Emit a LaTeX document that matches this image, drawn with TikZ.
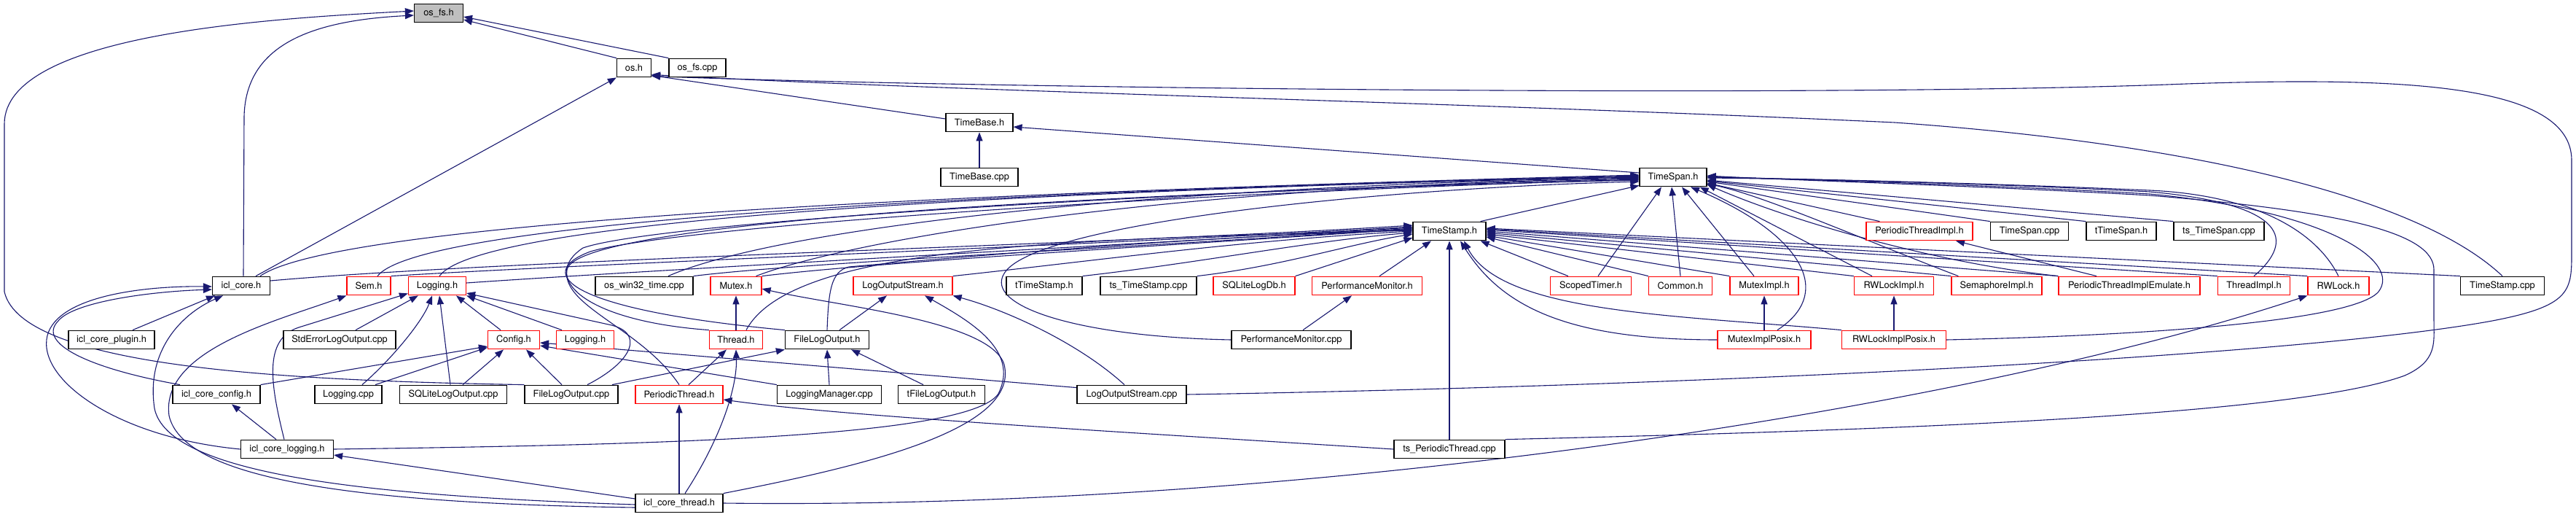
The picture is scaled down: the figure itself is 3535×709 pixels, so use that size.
\documentclass[tikz,border=0pt]{standalone}
\usepackage{fontspec}
\setmainfont{TeX Gyre Heros}
\usetikzlibrary{arrows.meta}
\definecolor{lnc}{RGB}{25,25,112}
\definecolor{gfill}{RGB}{191,191,191}
\pgfdeclarelayer{edges}
\pgfsetlayers{edges,main}
\begin{document}
\begin{tikzpicture}[x=1pt,y=-1pt,
  nb/.style={draw=black,fill=white,line width=1.2pt,minimum height=25.6pt,inner sep=0pt,font=\fontsize{12.8}{14}\selectfont},
  nr/.style={nb,draw=red},
  e/.style={draw=lnc,line width=1.1pt,-{Triangle[length=12pt,width=9pt]}}]
\useasboundingbox (0,0) rectangle (3535,709);
% row 0-3
\node[nb,fill=gfill,minimum width=67pt] (osfsh) at (602,18) {os\_fs.h};
\node[nb,minimum width=47pt] (osh) at (870,93) {os.h};
\node[nb,minimum width=78pt] (osfscpp) at (957,93) {os\_fs.cpp};
\node[nb,minimum width=92pt] (timebaseh) at (1344,168) {TimeBase.h};
\node[nb,minimum width=106pt] (timebasecpp) at (1344,243) {TimeBase.cpp};
\node[nb,minimum width=92pt] (timespanh) at (2296,243) {TimeSpan.h};
% row 4
\node[nb,minimum width=100pt] (timestamph) at (1989,317) {TimeStamp.h};
\node[nr,minimum width=146pt] (ptimplh) at (2634,317) {PeriodicThreadImpl.h};
\node[nb,minimum width=107pt] (timespancpp) at (2785,317) {TimeSpan.cpp};
\node[nb,minimum width=96pt] (ttimespanh) at (2911,317) {tTimeSpan.h};
\node[nb,minimum width=124pt] (tstimespancpp) at (3045,317) {ts\_TimeSpan.cpp};
% row 5
\node[nb,minimum width=79pt] (iclcoreh) at (331,392) {icl\_core.h};
\node[nr,minimum width=60pt] (semh) at (506,392) {Sem.h};
\node[nr,minimum width=79pt] (loggingh) at (600,392) {Logging.h};
\node[nb,minimum width=134pt] (win32) at (884,392) {os\_win32\_time.cpp};
\node[nr,minimum width=70pt] (mutexh) at (1010,392) {Mutex.h};
\node[nr,minimum width=136pt] (logoutstreamh) at (1239,392) {LogOutputStream.h};
\node[nb,minimum width=104pt] (ttimestamph) at (1433,392) {tTimeStamp.h};
\node[nb,minimum width=132pt] (tstimestampcpp) at (1576,392) {ts\_TimeStamp.cpp};
\node[nr,minimum width=112pt] (sqlitelogdbh) at (1721,392) {SQLiteLogDb.h};
\node[nr,minimum width=151pt] (perfmonh) at (1876,392) {PerformanceMonitor.h};
\node[nr,minimum width=111pt] (scopedtimerh) at (2183,392) {ScopedTimer.h};
\node[nr,minimum width=87pt] (commonh) at (2306,392) {Common.h};
\node[nr,minimum width=94pt] (muteximplh) at (2421,392) {MutexImpl.h};
\node[nr,minimum width=109pt] (rwlockimplh) at (2599,392) {RWLockImpl.h};
\node[nr,minimum width=124pt] (semimplh) at (2740,392) {SemaphoreImpl.h};
\node[nr,minimum width=194pt] (ptimplemuh) at (2922,392) {PeriodicThreadImplEmulate.h};
\node[nr,minimum width=99pt] (threadimplh) at (3093,392) {ThreadImpl.h};
\node[nr,minimum width=84pt] (rwlockh) at (3209,392) {RWLock.h};
\node[nb,minimum width=115pt] (timestampcpp) at (3434,392) {TimeStamp.cpp};
% row 6
\node[nb,minimum width=118pt] (pluginh) at (153,466) {icl\_core\_plugin.h};
\node[nb,minimum width=154pt] (stderrcpp) at (466,466) {StdErrorLogOutput.cpp};
\node[nr,minimum width=71pt] (configh) at (705,466) {Config.h};
\node[nr,minimum width=79pt] (logging2h) at (803,466) {Logging.h};
\node[nr,minimum width=73pt] (threadh) at (1010,466) {Thread.h};
\node[nb,minimum width=115pt] (filelogouth) at (1135,466) {FileLogOutput.h};
\node[nb,minimum width=164pt] (perfmoncpp) at (1772,466) {PerformanceMonitor.cpp};
\node[nr,minimum width=128pt] (muteximplposixh) at (2421,466) {MutexImplPosix.h};
\node[nr,minimum width=143pt] (rwlockimplposixh) at (2599,466) {RWLockImplPosix.h};
% row 7
\node[nb,minimum width=120pt] (iclcoreconfigh) at (297,541) {icl\_core\_config.h};
\node[nb,minimum width=92pt] (loggingcpp) at (478,541) {Logging.cpp};
\node[nb,minimum width=147pt] (sqlitelogoutcpp) at (622,541) {SQLiteLogOutput.cpp};
\node[nb,minimum width=128pt] (filelogoutcpp) at (784,541) {FileLogOutput.cpp};
\node[nr,minimum width=120pt] (periodicthreadh) at (932,541) {PeriodicThread.h};
\node[nb,minimum width=143pt] (loggingmgrcpp) at (1138,541) {LoggingManager.cpp};
\node[nb,minimum width=119pt] (tfilelogouth) at (1292,541) {tFileLogOutput.h};
\node[nb,minimum width=150pt] (logoutstreamcpp) at (1553,541) {LogOutputStream.cpp};
% rows 8-9
\node[nb,minimum width=127pt] (iclcorelogh) at (394,616) {icl\_core\_logging.h};
\node[nb,minimum width=152pt] (tsperiodiccpp) at (1989,616) {ts\_PeriodicThread.cpp};
\node[nb,minimum width=120pt] (iclcorethreadh) at (932,690) {icl\_core\_thread.h};

\begin{pgfonlayer}{edges}
\fill[white] (0,0) rectangle (3535,709);
% ---- os_fs.h
\draw[e] (osh.north west) -- ([yshift=-9pt]osfsh.east);
\draw[e] (osfscpp.north west) -- ([yshift=-5pt]osfsh.east);
\draw[e] ([xshift=3pt]iclcoreh.north) -- (335,160) .. controls (337,60) and (430,28) .. ([yshift=-3pt]osfsh.west);
\draw[e] (filelogoutcpp.north west) .. controls (400,522) and (30,505) .. (6,400) -- (6,170) .. controls (6,45) and (380,25) .. ([yshift=3pt]osfsh.west);
% ---- os.h
\draw[e] ([xshift=20pt]iclcoreh.north) -- (osh.south west);
\draw[e] ([yshift=5pt]timebaseh.west) -- ([yshift=3pt]osh.south east);
\draw[e] (timestampcpp.north) .. controls (3330,280) and (3050,200) .. (2600,168) .. controls (2000,140) and (1300,125) .. ([yshift=4pt]osh.south east);
\draw[e] (logoutstreamcpp.east) .. controls (2300,530) and (3150,490) .. (3420,440) .. controls (3525,420) and (3529,400) .. (3529,350) -- (3529,220) .. controls (3529,115) and (3300,105) .. (3000,115) .. controls (2500,135) and (1300,120) .. ([yshift=2pt]osh.south east);
% ---- TimeBase.h
\draw[e] (timebasecpp.north) -- (timebaseh.south);
\draw[e] ([yshift=6pt]timespanh.west) -- ([yshift=-6pt]timebaseh.east);
% ---- TimeSpan.h from the left
\draw[e] ([xshift=26pt]iclcoreh.north) .. controls (470,300) and (1400,262) .. ([yshift=3pt]timespanh.west);
\draw[e] ([xshift=12pt]semh.north) .. controls (580,300) and (1400,262) .. ([yshift=2pt]timespanh.west);
\draw[e] ([xshift=3pt]loggingh.north) .. controls (660,300) and (1400,262) .. ([yshift=1pt]timespanh.west);
\draw[e] ([xshift=33pt]win32.north) .. controls (1050,320) and (1500,258) .. (timespanh.west);
\draw[e] ([xshift=-8pt]mutexh.north east) .. controls (1150,335) and (1550,258) .. ([yshift=-1pt]timespanh.west);
\draw[e] (threadh.north west) .. controls (800,440) and (740,380) .. (800,340) .. controls (900,305) and (1600,262) .. ([yshift=-2pt]timespanh.west);
\draw[e] (filelogouth.north west) .. controls (780,425) and (730,375) .. (810,345) .. controls (920,312) and (1600,265) .. ([yshift=-3pt]timespanh.west);
\draw[e] (periodicthreadh.north) .. controls (880,450) and (770,420) .. (778,370) .. controls (790,300) and (1600,262) .. ([yshift=-4pt]timespanh.west);
\draw[e] (perfmoncpp.west) .. controls (1480,462) and (1350,420) .. (1378,375) .. controls (1420,305) and (1900,258) .. ([yshift=-6pt]timespanh.west);
\draw[e] ([xshift=-8pt]timestamph.north east) -- ([yshift=2pt]timespanh.south west);
% ---- TimeSpan.h from below
\draw[e] ([xshift=10pt]scopedtimerh.north) -- ([xshift=-16pt]timespanh.south);
\draw[e] (commonh.north) -- ([xshift=-2pt]timespanh.south);
\draw[e] ([xshift=-14pt]muteximplh.north) -- ([xshift=12pt]timespanh.south);
\draw[e] ([xshift=18pt]muteximplposixh.north) .. controls (2520,400) and (2470,320) .. ([xshift=24pt]timespanh.south);
\draw[e] ([xshift=-30pt]rwlockimplh.north) -- ([xshift=-10pt]timespanh.south east);
% ---- TimeSpan.h from the right
\draw[e] ([xshift=19pt]ptimplh.north west) -- ([yshift=-8pt]timespanh.east);
\draw[e] (timespancpp.north west) -- ([yshift=-6pt]timespanh.east);
\draw[e] (ttimespanh.north west) -- ([yshift=-5pt]timespanh.east);
\draw[e] (tstimespancpp.north west) -- ([yshift=-4pt]timespanh.east);
\draw[e] ([xshift=10pt]semimplh.north west) .. controls (2560,330) and (2420,268) .. ([yshift=-9pt]timespanh.east);
\draw[e] (ptimplemuh.north west) .. controls (2650,360) and (2450,300) .. ([yshift=-10pt]timespanh.east);
\draw[e] (threadimplh.north) .. controls (3150,330) and (3140,280) .. (2950,263) .. controls (2700,250) and (2450,245) .. ([yshift=-1pt]timespanh.east);
\draw[e] (rwlockh.north) .. controls (3180,320) and (3100,268) .. (2950,261) .. controls (2700,250) and (2450,245) .. (timespanh.east);
\draw[e] (rwlockimplposixh.east) .. controls (2950,460) and (3230,440) .. (3264,400) .. controls (3295,360) and (3200,290) .. (2950,266) .. controls (2700,252) and (2450,246) .. ([yshift=1pt]timespanh.east);
\draw[e] (tsperiodiccpp.north east) .. controls (2600,590) and (3150,570) .. (3300,515) .. controls (3345,495) and (3340,470) .. (3340,440) -- (3340,370) .. controls (3340,320) and (3220,290) .. (2950,268) .. controls (2700,254) and (2450,247) .. ([yshift=2pt]timespanh.east);
% ---- TimeStamp.h from the left
\draw[e] ([yshift=7pt]iclcoreh.east) .. controls (700,356) and (1500,336) .. ([yshift=8pt]timestamph.west);
\draw[e] (semh.north east) .. controls (800,362) and (1500,336) .. ([yshift=6pt]timestamph.west);
\draw[e] ([yshift=4pt]loggingh.east) .. controls (900,370) and (1500,338) .. ([yshift=5pt]timestamph.west);
\draw[e] (win32.north east) .. controls (1100,360) and (1550,340) .. ([yshift=4pt]timestamph.west);
\draw[e] (mutexh.north east) .. controls (1200,360) and (1550,340) .. ([yshift=3pt]timestamph.west);
\draw[e] ([xshift=14pt]threadh.north) .. controls (1090,330) and (1500,330) .. ([yshift=2pt]timestamph.west);
\draw[e] (filelogouth.north) .. controls (1137,400) and (1140,372) .. (1165,366) .. controls (1400,345) and (1700,322) .. ([yshift=1pt]timestamph.west);
\draw[e] (logoutstreamh.north east) .. controls (1500,358) and (1700,330) .. (timestamph.west);
\draw[e] (ttimestamph.north east) .. controls (1650,360) and (1800,330) .. ([yshift=-2pt]timestamph.west);
\draw[e] (tstimestampcpp.north east) .. controls (1760,365) and (1850,335) .. ([yshift=-4pt]timestamph.west);
\draw[e] (sqlitelogdbh.north east) -- ([yshift=-9pt]timestamph.west);
\draw[e] ([xshift=17pt]perfmonh.north) -- ([xshift=-25pt]timestamph.south);
\draw[e] (tsperiodiccpp.north) -- (timestamph.south);
% ---- TimeStamp.h from the right
\draw[e] ([xshift=25pt]scopedtimerh.north west) -- ([xshift=-8pt]timestamph.south east);
\draw[e] (commonh.north west) -- ([yshift=-8pt]timestamph.east);
\draw[e] (muteximplh.north west) -- ([yshift=-6pt]timestamph.east);
\draw[e] (rwlockimplh.north west) -- ([yshift=-4pt]timestamph.east);
\draw[e] (semimplh.north west) -- ([yshift=-2pt]timestamph.east);
\draw[e] (ptimplemuh.north west) -- (timestamph.east);
\draw[e] (threadimplh.north west) -- ([yshift=2pt]timestamph.east);
\draw[e] (rwlockh.north west) -- ([yshift=3pt]timestamph.east);
\draw[e] (timestampcpp.north west) -- ([yshift=4pt]timestamph.east);
\draw[e] (muteximplposixh.west) .. controls (2150,466) and (2060,420) .. ([xshift=15pt]timestamph.south);
\draw[e] (rwlockimplposixh.north west) .. controls (2300,432) and (2060,430) .. ([xshift=20pt]timestamph.south);
% ---- impl headers
\draw[e] (muteximplposixh.north) -- (muteximplh.south);
\draw[e] (rwlockimplposixh.north) -- (rwlockimplh.south);
\draw[e] ([xshift=-45pt]ptimplemuh.north) -- ([xshift=50pt]ptimplh.south);
\draw[e] ([xshift=16pt]perfmoncpp.north) -- ([xshift=-21pt]perfmonh.south);
% ---- thread
\draw[e] (threadh.north) -- (mutexh.south);
\draw[e] ([xshift=13pt]periodicthreadh.north) -- ([xshift=-13pt]threadh.south);
\draw[e] (iclcorethreadh.north) -- (periodicthreadh.south);
\draw[e] ([xshift=8pt]iclcorethreadh.north) .. controls (990,600) and (1012,530) .. (threadh.south);
\draw[e] (tsperiodiccpp.west) .. controls (1500,590) and (1150,570) .. ([yshift=-7pt]periodicthreadh.east);
\draw[e] ([yshift=6pt]iclcorethreadh.west) -- ([yshift=-8pt]iclcorelogh.east);
\draw[e] ([yshift=-2pt]iclcorethreadh.west) .. controls (500,680) and (230,650) .. (212,560) .. controls (200,480) and (250,430) .. ([xshift=-25pt]iclcoreh.south);
\draw[e] ([yshift=-6pt]iclcorethreadh.west) .. controls (450,690) and (250,650) .. (232,570) .. controls (220,480) and (380,440) .. (semh.south west);
\draw[e] (iclcorethreadh.north east) .. controls (1180,640) and (1400,590) .. (1378,500) .. controls (1360,440) and (1150,420) .. ([yshift=-4pt]mutexh.east);
\draw[e] (iclcorethreadh.east) .. controls (1800,700) and (2700,560) .. (rwlockh.south west);
% ---- logging
\draw[e] (iclcorelogh.east) .. controls (900,610) and (1330,600) .. (1370,540) .. controls (1400,480) and (1330,440) .. ([xshift=30pt]logoutstreamh.south);
\draw[e] ([xshift=-15pt]iclcorelogh.north) -- ([xshift=21pt]iclcoreconfigh.south);
\draw[e] (iclcorelogh.west) .. controls (160,600) and (50,520) .. (65,460) .. controls (80,405) and (200,392) .. ([yshift=-1pt]iclcoreh.west);
\draw[e] ([xshift=-50pt]iclcoreconfigh.north) .. controls (120,505) and (50,470) .. (80,440) .. controls (100,415) and (200,400) .. ([yshift=-5pt]iclcoreh.west);
\draw[e] ([xshift=29pt]pluginh.north) -- ([xshift=4pt]iclcoreh.south west);
\draw[e] ([xshift=-4pt]iclcorelogh.north) .. controls (372,530) and (360,465) .. (410,449) -- ([yshift=3pt]loggingh.south west);
\draw[e] ([xshift=22pt]stderrcpp.north) -- ([xshift=14pt]loggingh.south west);
\draw[e] ([xshift=19pt]loggingcpp.north) .. controls (540,490) and (580,440) .. ([xshift=-7pt]loggingh.south);
\draw[e] ([xshift=-4pt]sqlitelogoutcpp.north) -- ([xshift=3pt]loggingh.south);
\draw[e] ([xshift=-18pt]configh.north) -- ([xshift=26pt]loggingh.south);
\draw[e] ([xshift=-32pt]logging2h.north) -- (loggingh.south east);
\draw[e] ([xshift=22pt]filelogoutcpp.north) .. controls (870,495) and (885,455) .. (835,445) -- ([yshift=-10pt]loggingh.east);
\draw[e] (iclcoreconfigh.north east) -- ([yshift=-9pt]configh.west);
\draw[e] ([xshift=37pt]loggingcpp.north) -- ([yshift=3pt]configh.south west);
\draw[e] ([xshift=13pt]sqlitelogoutcpp.north) -- ([xshift=-14pt]configh.south);
\draw[e] ([xshift=-13pt]filelogoutcpp.north) -- ([xshift=17pt]configh.south);
\draw[e] (loggingmgrcpp.north west) -- ([yshift=-8pt]configh.east);
\draw[e] ([yshift=-4pt]logoutstreamcpp.north west) -- ([yshift=-4pt]configh.east);
\draw[e] ([xshift=56pt]filelogoutcpp.north) -- (filelogouth.south west);
\draw[e] (loggingmgrcpp.north) -- (filelogouth.south);
\draw[e] ([xshift=-25pt]tfilelogouth.north) -- ([xshift=-25pt]filelogouth.south east);
\draw[e] ([xshift=17pt]filelogouth.north) -- ([xshift=-22pt]logoutstreamh.south);
\draw[e] ([xshift=-10pt]logoutstreamcpp.north) .. controls (1480,470) and (1380,425) .. (logoutstreamh.south east);
\end{pgfonlayer}
\end{tikzpicture}
\end{document}
